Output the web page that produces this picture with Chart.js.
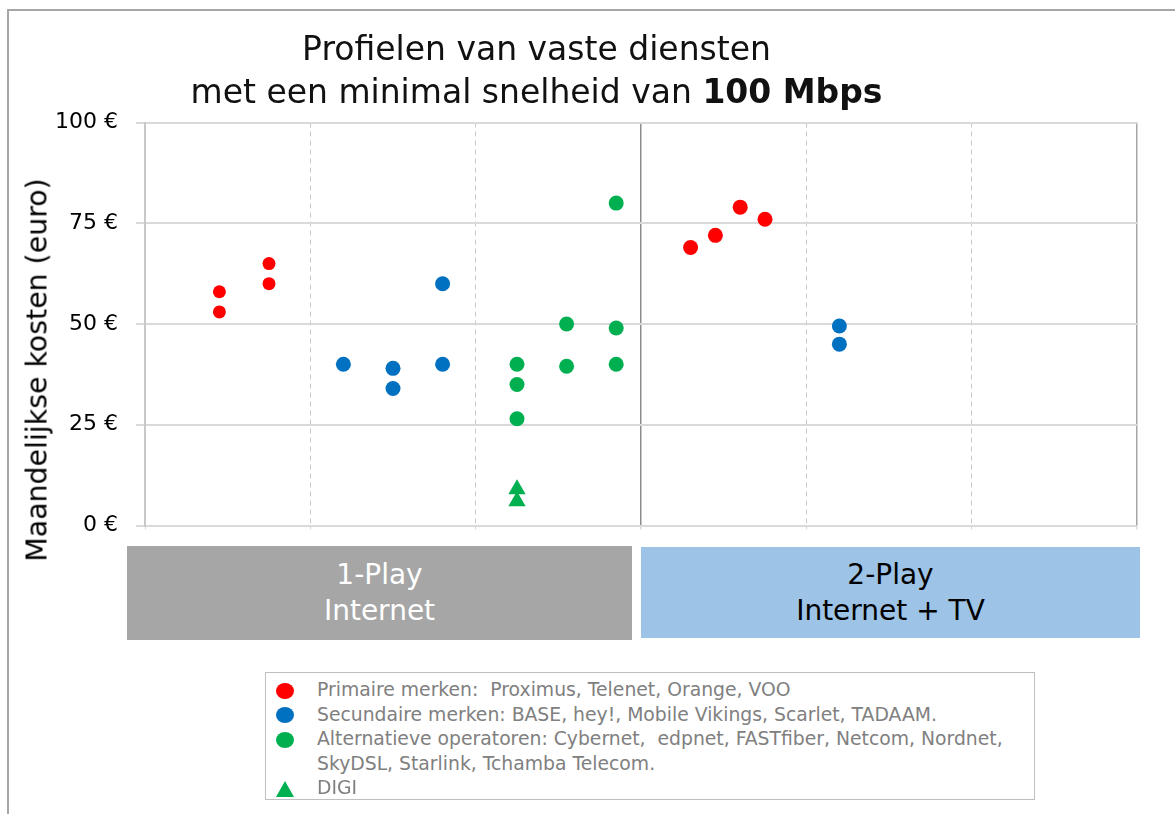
<!DOCTYPE html>
<html>
<head>
<meta charset="utf-8">
<script src="https://cdn.jsdelivr.net/npm/chart.js@4"></script>
<style>
  body { margin: 0; background: #fff; font-family: 'DejaVu Sans', sans-serif; }
  #wrap { position: relative; width: 1175px; height: 814px; overflow: hidden; }
  #frame { position: absolute; left: 7px; top: 9px; width: 1300px; height: 900px;
           border-top: 2px solid #a6a6a6; border-left: 2px solid #a6a6a6; }
  canvas { position: absolute; left: 0; top: 0; }
  #title { position: absolute; left: 0; top: 27px; width: 1073px; text-align: center;
           font-size: 33px; line-height: 43px; color: #111; }
  #ytitle { position: absolute; left: 37px; top: 370px; font-size: 28.4px; color: #000;
            transform: translate(-50%, -50%) rotate(-90deg); white-space: nowrap; }
  .cat { position: absolute; display: flex; align-items: center; justify-content: center;
         text-align: center; font-size: 28px; line-height: 36px; }
  #legend { position: absolute; left: 265px; top: 672px; width: 768px; height: 126px;
            border: 1px solid #bfbfbf; background: #fff; }
  .lrow { position: absolute; left: 51px; font-size: 18.8px; line-height: 24.5px; color: #808080; white-space: pre; }
  .lmark { position: absolute; left: 10px; width: 18px; height: 16px; border-radius: 50%; }
  .ltri { position: absolute; left: 10px; width: 0; height: 0;
          border-left: 9px solid transparent; border-right: 9px solid transparent; border-bottom: 16px solid #00b050; }
</style>
</head>
<body>
<div id="wrap">
  <div id="frame"></div>
  <canvas id="grafiek" width="1175" height="814"></canvas>
  <div id="title">Profielen van vaste diensten<br>met een minimal snelheid van <b>100 Mbps</b></div>
  <div id="ytitle">Maandelijkse kosten (euro)</div>
  <div class="cat" id="cat0" style="left:127px; top:546px; width:505px; height:94px; background:#a6a6a6; color:#fff;"></div>
  <div class="cat" id="cat1" style="left:641px; top:547px; width:499px; height:91px; background:#9dc3e6; color:#000;"></div>
  <div id="legend"></div>
</div>
<script>
// categorieen onder de grafiek
const categories = ['1-Play\nInternet', '2-Play\nInternet + TV'];

// y-as ticks
const yTicks = [0, 25, 50, 75, 100];

// Primaire merken
const primX = [0.45, 0.45, 0.75, 0.75, 3.3, 3.45, 3.6, 3.75];
const primY = [53, 58, 60, 65, 69, 72, 79, 76];

// Secundaire merken
const secX = [1.2, 1.5, 1.5, 1.8, 1.8, 4.2, 4.2];
const secY = [40, 34, 39, 40, 60, 45, 49.5];

// Alternatieve operatoren
const altX = [2.25, 2.25, 2.25, 2.55, 2.55, 2.85, 2.85, 2.85];
const altY = [26.5, 35, 40, 39.5, 50, 40, 49, 80];

// DIGI
const digiX = [2.25, 2.25];
const digiY = [9, 6];

const labels = [
    'Primaire merken:  Proximus, Telenet, Orange, VOO',
    'Secundaire merken: BASE, hey!, Mobile Vikings, Scarlet, TADAAM.',
    'Alternatieve operatoren: Cybernet,  edpnet, FASTfiber, Netcom, Nordnet,\nSkyDSL, Starlink, Tchamba Telecom.',
    'DIGI'
];

function punten(xs, ys) {
    return xs.map(function (x, i) { return { x: x, y: ys[i] }; });
}

Chart.defaults.font.family = "'DejaVu Sans', sans-serif";

const ctx = document.getElementById('grafiek').getContext('2d');
const myChart = new Chart(ctx, {
    type: 'scatter',
    data: {
        datasets: [
            {
                label: labels[0],
                data: punten(primX, primY),
                backgroundColor: '#ff0000',
                borderWidth: 0,
                pointStyle: 'circle',
                pointRadius: function (c) { return c.raw && c.raw.x < 1 ? 6.5 : 7.5; }
            },
            {
                label: labels[1],
                data: punten(secX, secY),
                backgroundColor: '#0070c0',
                borderWidth: 0,
                pointStyle: 'circle',
                pointRadius: 7.5
            },
            {
                label: labels[2],
                data: punten(altX, altY),
                backgroundColor: '#00b050',
                borderWidth: 0,
                pointStyle: 'circle',
                pointRadius: 7.5
            },
            {
                label: labels[3],
                data: punten(digiX, digiY),
                backgroundColor: '#00b050',
                borderWidth: 0,
                pointStyle: 'triangle',
                pointRadius: 10
            }]
    },
    options: {
        responsive: false,
        animation: false,
        devicePixelRatio: 1,
        layout: {
            padding: { left: 0, top: 122.5, right: 38, bottom: 288.5 }
        },
        plugins: {
            legend: { display: false },
            tooltip: { enabled: false }
        },
        scales: {
            x: {
                type: 'linear',
                min: 0,
                max: 6,
                ticks: { display: false, stepSize: 1 },
                grid: {
                    color: function (c) {
                        if (c.tick.value === 3) return '#8c8c8c';
                        if (c.tick.value === 6) return '#a6a6a6';
                        return '#c8c8c8';
                    },
                    lineWidth: function (c) {
                        return (c.tick.value === 3 || c.tick.value === 6) ? 1.5 : 1;
                    },
                    tickLength: 4,
                    tickColor: '#d9d9d9'
                },
                border: {
                    display: false,
                    dash: function (c) {
                        const v = c.tick ? c.tick.value : 0;
                        return (v === 0 || v === 3 || v === 6) ? [] : [5, 4];
                    }
                },
                afterFit: function (scale) { scale.height = 0; }
            },
            y: {
                min: 0,
                max: 100,
                afterBuildTicks: function (scale) {
                    scale.ticks = yTicks.map(function (v) { return { value: v }; });
                },
                ticks: {
                    callback: function (v) { return v + ' €'; },
                    color: '#000',
                    font: { size: 22 },
                    padding: 18
                },
                grid: {
                    color: '#d9d9d9',
                    lineWidth: 2,
                    tickLength: 9
                },
                border: { color: '#c8c8c8', width: 2 },
                afterFit: function (scale) { scale.width = 145; }
            }
        }
    }
});

// categorie blokken
categories.forEach(function (txt, i) {
    document.getElementById('cat' + i).innerHTML = txt.replace('\n', '<br>');
});

// legenda
const legend = document.getElementById('legend');
const rowTops = [5, 29.5, 54, 103];
myChart.data.datasets.forEach(function (ds, i) {
    const row = document.createElement('div');
    row.className = 'lrow';
    row.style.top = rowTops[i] + 'px';
    row.textContent = ds.label;
    legend.appendChild(row);
    const mark = document.createElement('div');
    if (ds.pointStyle === 'triangle') {
        mark.className = 'ltri';
        mark.style.top = (rowTops[i] + 5) + 'px';
    } else {
        mark.className = 'lmark';
        mark.style.top = (rowTops[i] + 4.5) + 'px';
        mark.style.background = ds.backgroundColor;
    }
    legend.appendChild(mark);
});
</script>
</body>
</html>
